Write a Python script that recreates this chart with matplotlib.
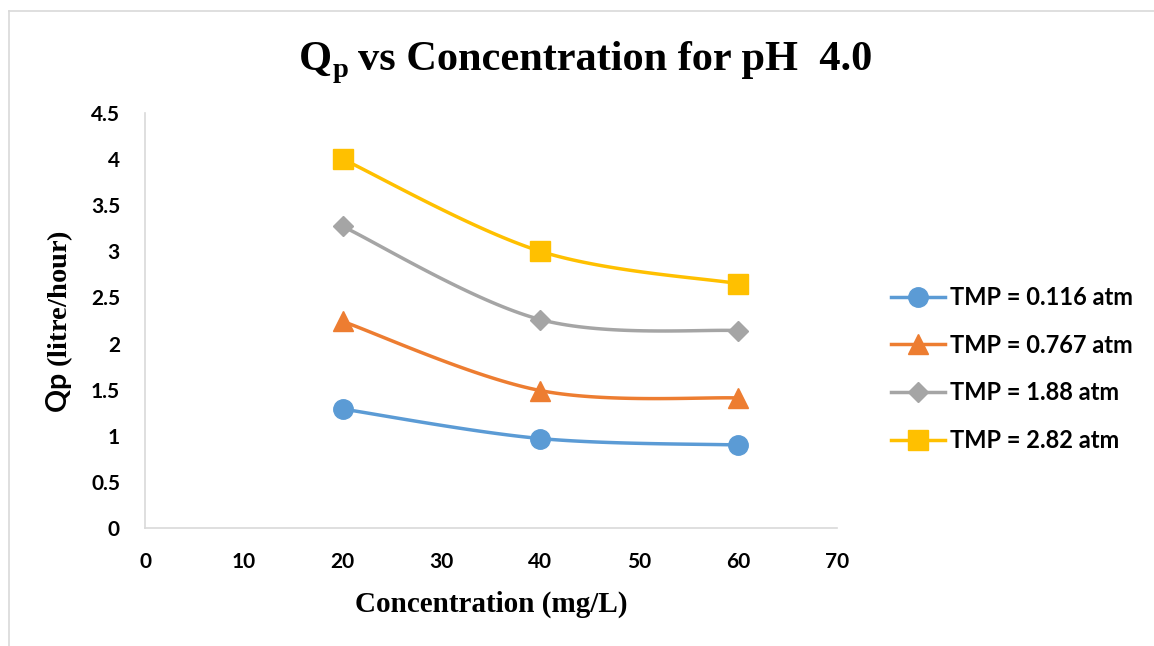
import numpy as np
import matplotlib
matplotlib.use("Agg")
import matplotlib.pyplot as plt
from matplotlib.lines import Line2D

plt.rcParams['mathtext.fontset'] = 'custom'
plt.rcParams['mathtext.sf'] = 'Lato:bold'

# concentration (mg/L) and permeate flux Qp (litre/hour) at each TMP
conc = [20, 40, 60]
qp_0116 = [1.29, 0.97, 0.90]
qp_0767 = [2.24, 1.49, 1.41]
qp_188 = [3.27, 2.26, 2.14]
qp_282 = [4.00, 3.00, 2.65]
labels = ['TMP = 0.116 atm', 'TMP = 0.767 atm', 'TMP = 1.88 atm', 'TMP = 2.82 atm']
colors = ['#5B9BD5', '#ED7D31', '#A5A5A5', '#FFC000']
markers = ['o', '^', 'D', 's']
msizes = [14, 14, 10.5, 14]

xticks = [0, 10, 20, 30, 40, 50, 60, 70]
yticks = [0, 0.5, 1, 1.5, 2, 2.5, 3, 3.5, 4, 4.5]

W, H = 1154, 646


def smooth(x, y, n=40):
    # cardinal (catmull-rom) bezier through the points, like spreadsheet "smoothed line"
    p = np.column_stack([x, y]).astype(float)
    ext = np.vstack([p[0], p, p[-1]])
    t = np.linspace(0, 1, n)[:, None]
    out = []
    for i in range(len(p) - 1):
        p0, p1, p2, p3 = ext[i], ext[i + 1], ext[i + 2], ext[i + 3]
        c1 = p1 + (p2 - p0) / 6
        c2 = p2 - (p3 - p1) / 6
        seg = (1 - t)**3 * p1 + 3 * (1 - t)**2 * t * c1 + 3 * (1 - t) * t**2 * c2 + t**3 * p2
        out.append(seg)
    return np.vstack(out)


fig = plt.figure(figsize=(W / 100, H / 100), dpi=100)
ax = fig.add_axes([145 / W, 118 / H, 692 / W, 415 / H])

handles = []
for ys, c, m, ms in zip([qp_0116, qp_0767, qp_188, qp_282], colors, markers, msizes):
    curve = smooth(conc, ys)
    ax.plot(curve[:, 0], curve[:, 1], color=c, lw=2.5, solid_capstyle='round', zorder=2)
    ax.plot(conc, ys, ls='none', marker=m, ms=ms, color=c, mec=c, zorder=3)
    handles.append(Line2D([], [], color=c, lw=2.5, marker=m, ms=ms, mec=c))

ax.set_xlim(0, 70)
ax.set_ylim(0, 4.5)
ax.set_xticks(xticks)
ax.set_yticks(yticks)
ax.set_xticklabels([str(v) for v in xticks])
ax.set_yticklabels([('%g' % v) for v in yticks])
ax.tick_params(length=0, labelsize=15)
ax.tick_params(axis='x', pad=17)
ax.tick_params(axis='y', pad=18)
for lab in ax.get_xticklabels() + ax.get_yticklabels():
    lab.set_fontfamily('Lato')
    lab.set_fontweight('bold')

for s in ['top', 'right']:
    ax.spines[s].set_visible(False)
for s in ['left', 'bottom']:
    ax.spines[s].set_color('#D9D9D9')
    ax.spines[s].set_linewidth(1.2)

# title: Q with subscript p, then the rest, laid out piece by piece
serif = dict(fontfamily='Liberation Serif', fontweight='bold')
renderer = fig.canvas.get_renderer()
t_q = fig.text(299 / W, 1 - 70 / H, 'Q', ha='left', va='baseline', fontsize=30.5, **serif)
x_p = t_q.get_window_extent(renderer).x1 + 1
t_p = fig.text(x_p / W, 1 - 77 / H, 'p', ha='left', va='baseline', fontsize=20.5, **serif)
x_r = t_p.get_window_extent(renderer).x1 + 9
fig.text(x_r / W, 1 - 70 / H, 'vs Concentration for pH  4.0', ha='left', va='baseline',
         fontsize=30.5, **serif)

fig.text(491 / W, 1 - 604 / H, 'Concentration (mg/L)', ha='center', va='center',
         fontsize=21, **serif)
fig.text(60 / W, 1 - 321 / H, r'$\mathsf{Qp}$ (litre/hour)', ha='center', va='center',
         rotation=90, fontsize=20.5, **serif)

fig.legend(handles, labels, loc='center left', bbox_to_anchor=(891 / W, 1 - 369 / H),
           frameon=False, borderpad=0, borderaxespad=0, handlelength=2.3, handletextpad=0.2,
           labelspacing=1.05, prop={'family': 'Lato', 'weight': 'bold', 'size': 17})

# light outer frame
fig.add_artist(Line2D([9 / W, 9 / W], [0, 1 - 11 / H], transform=fig.transFigure,
                      color='#D9D9D9', lw=1.2))
fig.add_artist(Line2D([9 / W, 1], [1 - 11 / H, 1 - 11 / H], transform=fig.transFigure,
                      color='#D9D9D9', lw=1.2))

fig.savefig('out.png', dpi=100)
